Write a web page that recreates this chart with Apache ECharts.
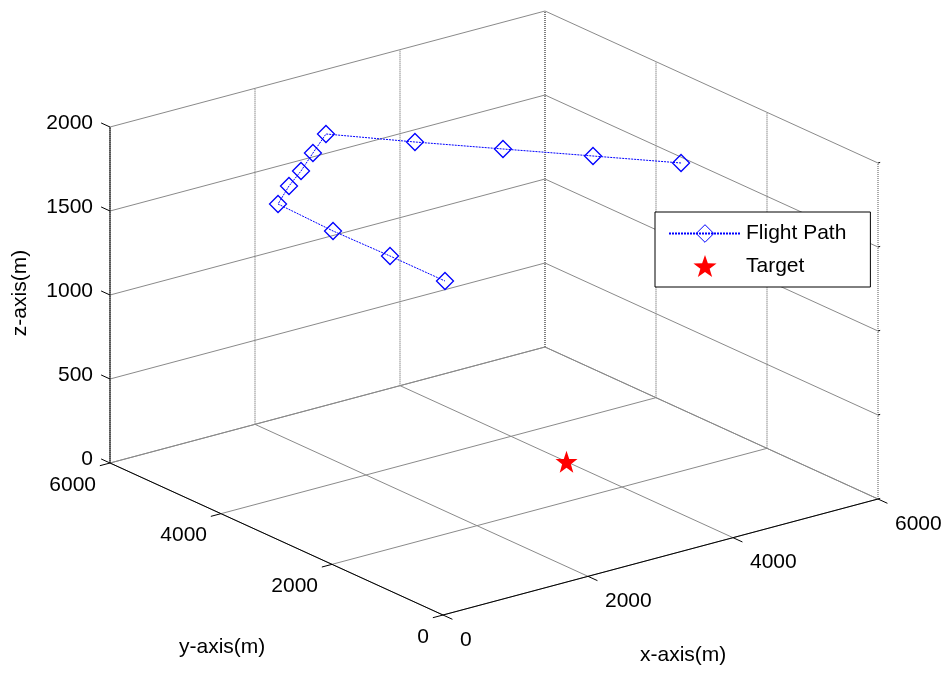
<!DOCTYPE html>
<html>
<head>
<meta charset="utf-8">
<script src="https://cdn.jsdelivr.net/npm/echarts@6/dist/echarts.min.js"></script>
<style>html,body{margin:0;padding:0;background:#fff}#c{width:950px;height:673px}</style>
</head>
<body>
<div id="c"></div>
<script>
// ---- data ----
var xTicks = [0, 2000, 4000, 6000];
var yTicks = [0, 2000, 4000, 6000];
var zTicks = [0, 500, 1000, 1500, 2000];
var pathX = [4926, 4293, 3643, 3010, 2388, 1912, 1465, 1074, 635, 599, 618, 620];
var pathY = [2146, 2905, 3678, 4437, 5228, 4841, 4472, 4178, 3802, 2764, 1762, 774];
var pathZ = [1800, 1800, 1800, 1800, 1800, 1800, 1800, 1800, 1800, 1800, 1800, 1800];
var targetX = [4000];
var targetY = [3000];
var targetZ = [0];

// ---- view projection (layout) ----
var W = 950, H = 673;
var O = [443, 615], EX = [435, -116], EY = [-333, -152], EZ = [0, -336];
var XR = 6000, YR = 6000, ZR = 2000;
function proj(x, y, z) {
  var px = O[0] + x / XR * EX[0] + y / YR * EY[0] + z / ZR * EZ[0];
  var py = O[1] + x / XR * EX[1] + y / YR * EY[1] + z / ZR * EZ[1];
  return [px, H - py];
}
var FONT = "'Liberation Sans', Arial, sans-serif";
var FS = 21;

// grid segments: [x1,y1,z1,x2,y2,z2,kind]
var segs = [];
xTicks.forEach(function (t) {
  segs.push([t, 0, 0, t, YR, 0, 'g']);
  segs.push([t, YR, 0, t, YR, ZR, 'v']);
});
yTicks.forEach(function (t) {
  segs.push([0, t, 0, XR, t, 0, 'g']);
  segs.push([XR, t, 0, XR, t, ZR, 'v']);
});
zTicks.forEach(function (t) {
  segs.push([0, YR, t, XR, YR, t, 'g']);
  segs.push([XR, 0, t, XR, YR, t, 'g']);
});
// axes
segs.push([0, 0, 0, XR, 0, 0, 'a']);
segs.push([0, 0, 0, 0, YR, 0, 'a']);
segs.push([0, YR, 0, 0, YR, ZR, 'a']);
// ticks
xTicks.forEach(function (t) { segs.push([t, 0, 0, t, -170, 0, 'a']); });
yTicks.forEach(function (t) { segs.push([0, t, 0, -140, t, 0, 'a']); });
zTicks.forEach(function (t) { segs.push([0, YR, t, 0, YR + 160, t, 'a']); });
zTicks.forEach(function (t) { segs.push([XR, 0, t, XR + 30, 0, t, 'a']); });

// labels: [x,y,z,text,dx,dy,align]
var labels = [];
xTicks.forEach(function (t) { labels.push([t, 0, 0, String(t), 17, 25, 'left']); });
yTicks.forEach(function (t) { labels.push([0, t, 0, String(t), -14, 22, 'right']); });
zTicks.forEach(function (t) { labels.push([0, YR, t, String(t), -17, -4, 'right']); });

var pathData = pathX.map(function (x, i) { return proj(x, pathY[i], pathZ[i]); });
var targetData = targetX.map(function (x, i) { return proj(x, targetY[i], targetZ[i]); });

var star = 'path://M0,-10 L2.35,-3.24 L9.51,-3.09 L3.8,1.24 L5.88,8.09 L0,4 L-5.88,8.09 L-3.8,1.24 L-9.51,-3.09 L-2.35,-3.24 Z';

var chart = echarts.init(document.getElementById('c'), null, { renderer: 'canvas' });
chart.setOption({
  animation: false,
  backgroundColor: '#fff',
  grid: { left: 0, right: 0, top: 0, bottom: 0 },
  xAxis: { type: 'value', min: 0, max: W, show: false },
  yAxis: { type: 'value', min: 0, max: H, show: false },
  legend: {
    left: 655, top: 212,
    orient: 'vertical',
    backgroundColor: '#fff',
    borderColor: '#000', borderWidth: 1, borderRadius: 0,
    padding: [11, 24, 10, 13],
    itemWidth: 72, itemHeight: 22, itemGap: 11,
    textStyle: { fontSize: FS, fontFamily: FONT, color: '#000' },
    data: [
      { name: 'Flight Path', itemStyle: { borderWidth: 1 } },
      { name: 'Target' }
    ]
  },
  graphic: [
    { type: 'text', left: 640, top: 645, style: { text: 'x-axis(m)', font: FS + 'px ' + FONT, fill: '#000' } },
    { type: 'text', left: 179, top: 637, style: { text: 'y-axis(m)', font: FS + 'px ' + FONT, fill: '#000' } },
    { type: 'text', x: 20, y: 293, rotation: Math.PI / 2, style: { text: 'z-axis(m)', font: FS + 'px ' + FONT, fill: '#000', align: 'center', verticalAlign: 'middle' } }
  ],
  series: [
    {
      type: 'custom', silent: true, z: 1,
      data: segs,
      renderItem: function (params, api) {
        var d = segs[params.dataIndex];
        var a = api.coord(proj(d[0], d[1], d[2]));
        var b = api.coord(proj(d[3], d[4], d[5]));
        var k = d[6];
        var style = k === 'a' ? { stroke: '#000', lineWidth: 1 } :
          (k === 'v' ? { stroke: '#555', lineWidth: 1, lineDash: [1, 1] } : { stroke: '#8a8a8a', lineWidth: 1 });
        return { type: 'line', shape: { x1: a[0], y1: a[1], x2: b[0], y2: b[1] }, style: style };
      }
    },
    {
      type: 'custom', silent: true, z: 2,
      data: labels,
      renderItem: function (params, api) {
        var d = labels[params.dataIndex];
        var p = api.coord(proj(d[0], d[1], d[2]));
        return {
          type: 'text', x: p[0] + d[4], y: p[1] + d[5],
          style: { text: d[3], font: FS + 'px ' + FONT, fill: '#000', align: d[6], verticalAlign: 'middle' }
        };
      }
    },
    {
      name: 'Flight Path', type: 'line', z: 5,
      data: pathData,
      symbol: 'diamond', symbolSize: 17,
      lineStyle: { color: '#0000ff', width: 1, type: [2, 1] },
      itemStyle: { color: 'rgba(255,255,255,0)', borderColor: '#0000ff', borderWidth: 1.3 }
    },
    {
      name: 'Target', type: 'scatter', z: 5,
      data: targetData,
      symbol: star, symbolSize: 22,
      itemStyle: { color: '#ff0000', opacity: 1 }
    }
  ]
});
</script>
</body>
</html>
